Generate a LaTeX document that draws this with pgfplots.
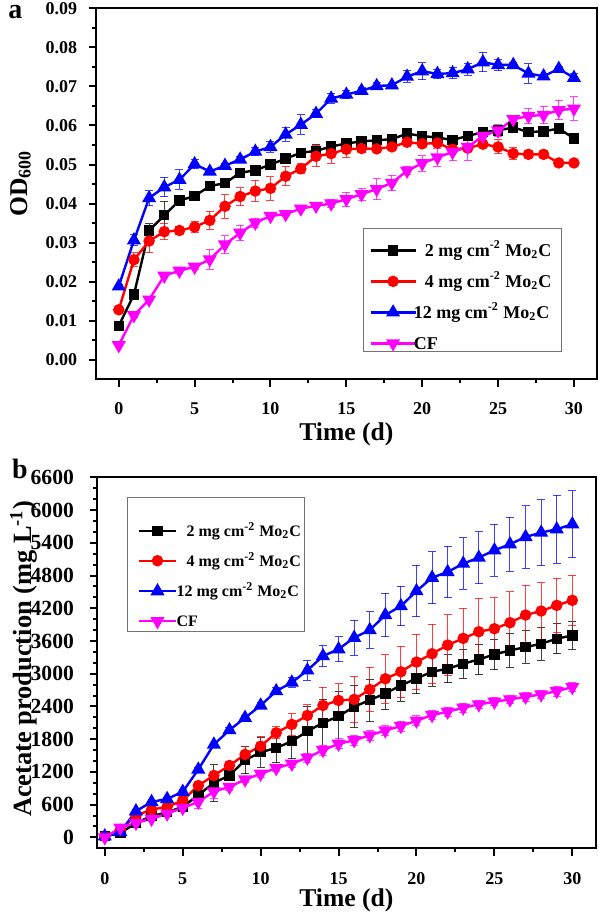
\documentclass[border=0pt]{standalone}
\usepackage{fontspec}
\setmainfont{Liberation Serif}
\usepackage{pgfplots}
\usepackage{pgfplotstable}
\pgfplotsset{compat=1.18}
\definecolor{cblk}{RGB}{0,0,0}
\definecolor{cred}{RGB}{255,0,0}
\definecolor{cblu}{RGB}{0,0,255}
\definecolor{cmag}{RGB}{255,0,255}

% ---------------- OD600 data ----------------
\pgfplotstableread{
x y e
0 0.0087 0.0005
1 0.0167 0.0006
2 0.0331 0.0017
3 0.0370 0.0035
4 0.0408 0.0006
5 0.0419 0.0008
6 0.0445 0.0005
7 0.0452 0.0005
8 0.0479 0.0005
9 0.0485 0.0005
10 0.0500 0.0008
11 0.0515 0.0005
12 0.0530 0.0010
13 0.0535 0.0015
14 0.0546 0.0012
15 0.0554 0.0008
16 0.0559 0.0005
17 0.0562 0.0005
18 0.0565 0.0005
19 0.0579 0.0005
20 0.0573 0.0005
21 0.0569 0.0005
22 0.0563 0.0005
23 0.0573 0.0006
24 0.0583 0.0006
25 0.0587 0.0008
26 0.0595 0.0008
27 0.0583 0.0005
28 0.0585 0.0005
29 0.0592 0.0005
30 0.0567 0.0005
}\odA
\pgfplotstableread{
x y e
0 0.0128 0.0005
1 0.0256 0.0018
2 0.0304 0.0030
3 0.0328 0.0020
4 0.0331 0.0010
5 0.0340 0.0013
6 0.0357 0.0023
7 0.0393 0.0030
8 0.0418 0.0023
9 0.0432 0.0028
10 0.0439 0.0030
11 0.0470 0.0025
12 0.0489 0.0013
13 0.0521 0.0027
14 0.0528 0.0025
15 0.0539 0.0022
16 0.0541 0.0010
17 0.0540 0.0007
18 0.0545 0.0007
19 0.0557 0.0008
20 0.0553 0.0008
21 0.0555 0.0005
22 0.0539 0.0006
23 0.0542 0.0008
24 0.0552 0.0005
25 0.0545 0.0018
26 0.0528 0.0015
27 0.0526 0.0003
28 0.0526 0.0003
29 0.0504 0.0003
30 0.0504 0.0003
}\odB
\pgfplotstableread{
x y e
0 0.0188 0.0006
1 0.0306 0.0014
2 0.0414 0.0019
3 0.0442 0.0025
4 0.0461 0.0025
5 0.0501 0.0012
6 0.0482 0.0005
7 0.0497 0.0005
8 0.0513 0.0008
9 0.0533 0.0010
10 0.0545 0.0013
11 0.0577 0.0018
12 0.0602 0.0025
13 0.0630 0.0010
14 0.0669 0.0012
15 0.0679 0.0010
16 0.0689 0.0007
17 0.0701 0.0010
18 0.0703 0.0004
19 0.0725 0.0015
20 0.0739 0.0022
21 0.0732 0.0012
22 0.0734 0.0015
23 0.0744 0.0015
24 0.0762 0.0025
25 0.0755 0.0015
26 0.0755 0.0005
27 0.0733 0.0025
28 0.0726 0.0005
29 0.0745 0.0006
30 0.0722 0.0010
}\odC
\pgfplotstableread{
x y e
0 0.0037 0.0003
1 0.0114 0.0005
2 0.0154 0.0005
3 0.0215 0.0005
4 0.0228 0.0006
5 0.0238 0.0007
6 0.0257 0.0025
7 0.0295 0.0023
8 0.0325 0.0020
9 0.0351 0.0012
10 0.0368 0.0005
11 0.0373 0.0003
12 0.0387 0.0005
13 0.0394 0.0005
14 0.0400 0.0010
15 0.0411 0.0018
16 0.0424 0.0015
17 0.0437 0.0027
18 0.0453 0.0020
19 0.0484 0.0010
20 0.0503 0.0020
21 0.0518 0.0022
22 0.0532 0.0022
23 0.0545 0.0035
24 0.0573 0.0015
25 0.0587 0.0015
26 0.0616 0.0010
27 0.0624 0.0020
28 0.0627 0.0022
29 0.0639 0.0025
30 0.0643 0.0030
}\odD

% ---------------- Acetate data ----------------
\pgfplotstableread{
x y e
0 20 10
1 80 20
2 265 30
3 390 40
4 460 40
5 560 40
6 775 50
7 1000 335
8 1135 90
9 1416 245
10 1560 275
11 1640 275
12 1762 320
13 1946 450
14 2100 430
15 2220 450
16 2395 380
17 2516 385
18 2639 300
19 2785 290
20 2913 280
21 3036 270
22 3091 260
23 3183 270
24 3262 280
25 3354 280
26 3427 310
27 3488 300
28 3549 300
29 3641 275
30 3702 250
}\acA
\pgfplotstableread{
x y e
0 20 10
1 140 20
2 400 30
3 510 40
4 560 40
5 675 50
6 950 40
7 1135 60
8 1318 60
9 1520 150
10 1672 180
11 1917 110
12 2070 195
13 2235 200
14 2418 330
15 2510 305
16 2528 430
17 2711 410
18 2907 445
19 3036 470
20 3213 510
21 3366 545
22 3525 560
23 3648 550
24 3770 610
25 3825 570
26 3935 563
27 4076 550
28 4149 515
29 4253 495
30 4345 460
}\acB
\pgfplotstableread{
x y e
0 20 10
1 100 20
2 480 30
3 650 30
4 705 30
5 835 40
6 1245 40
7 1703 40
8 1966 40
9 2192 40
10 2418 50
11 2681 60
12 2840 85
13 3061 185
14 3324 200
15 3450 230
16 3660 320
17 3800 335
18 4075 400
19 4240 365
20 4515 470
21 4760 480
22 4865 470
23 5018 470
24 5128 475
25 5263 480
26 5373 495
27 5507 575
28 5587 605
29 5648 625
30 5740 610
}\acC
\pgfplotstableread{
x y e
0 0 10
1 175 20
2 265 30
3 340 30
4 435 30
5 540 40
6 650 120
7 840 135
8 925 60
9 1060 60
10 1165 60
11 1270 60
12 1350 60
13 1460 80
14 1600 90
15 1715 90
16 1780 90
17 1870 90
18 1960 90
19 2040 90
20 2140 90
21 2242 90
22 2303 80
23 2376 80
24 2437 70
25 2486 70
26 2528 80
27 2577 80
28 2620 80
29 2681 90
30 2754 80
}\acD

\pgfplotsset{
  myaxis/.style={
    scale only axis,
    axis line style={line width=1pt},
    every tick/.style={line width=1pt, black},
    major tick length=3.7pt,
    minor tick length=2pt,
    tick align=outside,
    xtick pos=lower, ytick pos=lower,
    /pgf/number format/assume math mode=true,
    /pgf/number format/1000 sep={},
    tick label style={inner sep=0pt},
    xticklabel style={font=\fontsize{9}{9}\selectfont\bfseries},
    minor x tick num=1,
    xtick={0,5,10,15,20,25,30},
    legend cell align=left,
  },
  errs/.style={error bars/.cd, y dir=both, y explicit,
    error bar style={line width=0.5pt, opacity=0.75},
    error mark options={rotate=90, line width=0.5pt, mark size=2pt, opacity=0.75}},
  sA/.style={color=cblk, line width=1.2pt, mark=square*, mark size=2pt, mark options={solid}, errs},
  sB/.style={color=cred, line width=1.2pt, mark=*, mark size=2.25pt, mark options={solid}, errs},
  sC/.style={color=cblu, line width=1.2pt, mark=triangle*, mark size=2.9pt, mark options={solid}, errs},
  sD/.style={color=cmag, line width=1.2pt, mark=triangle*, mark size=2.9pt, mark options={solid, rotate=180}, errs},
}

\begin{document}
\begin{tikzpicture}
\path[use as bounding box] (0pt,0pt) rectangle (299pt,456.5pt);

% ---------------- panel a ----------------
\begin{axis}[myaxis,
  at={(48pt,266.85pt)}, anchor=south west,
  width=250.35pt, height=185.5pt,
  xmin=-1.5, xmax=31.5, ymin=-0.005, ymax=0.09,
  ytick={0,0.01,0.02,0.03,0.04,0.05,0.06,0.07,0.08,0.09},
  yticklabels={0.00,0.01,0.02,0.03,0.04,0.05,0.06,0.07,0.08,0.09},
  minor y tick num=1,
  yticklabel style={font=\fontsize{9}{9}\selectfont\bfseries},
  xticklabel shift=7.85pt,
  yticklabel shift=5.5pt,
  legend image code/.code={\draw[mark repeat=2,mark phase=2] plot coordinates {(0pt,0pt) (11.25pt,0pt) (22.5pt,0pt)};},
  legend style={at={(0.5452,0.3647)}, anchor=north west, draw=none, fill=none,
    inner sep=0pt, row sep=9.5pt, column sep=-1.5pt,
    font=\fontsize{9}{9}\selectfont\bfseries,
    nodes={inner sep=0pt, text height=6pt, text depth=0pt}},
]
\addplot+[sA] table[x=x, y=y, y error=e] {\odA};
\addlegendentry{\hspace{5.5pt}2 mg cm\textsuperscript{-2} Mo\textsubscript{2}C}
\addplot+[sB] table[x=x, y=y, y error=e] {\odB};
\addlegendentry{\hspace{5.5pt}4 mg cm\textsuperscript{-2} Mo\textsubscript{2}C}
\addplot+[sC] table[x=x, y=y, y error=e] {\odC};
\addlegendentry{12 mg cm\textsuperscript{-2} Mo\textsubscript{2}C}
\addplot+[sD] table[x=x, y=y, y error=e] {\odD};
\addlegendentry{CF}
\draw[black!55, line width=0.5pt] (axis description cs:0.5333,0.4051) rectangle (axis description cs:0.9287,0.0736);
\end{axis}

% ---------------- panel b ----------------
\begin{axis}[myaxis,
  at={(48.5pt,32.35pt)}, anchor=south west,
  width=249.35pt, height=185.5pt,
  xmin=-0.5, xmax=31.5, ymin=-200, ymax=6600,
  ytick={0,600,1200,1800,2400,3000,3600,4200,4800,5400,6000,6600},
  minor y tick num=2,
  yticklabel style={font=\fontsize{10.8}{10.8}\selectfont\bfseries},
  xticklabel shift=8.35pt,
  yticklabel shift=7.65pt,
  legend image code/.code={\draw[mark repeat=2,mark phase=2] plot coordinates {(0pt,0pt) (9.25pt,0pt) (18.5pt,0pt)};},
  legend style={at={(0.0810,0.8714)}, anchor=north west, draw=none, fill=none,
    inner sep=0pt, row sep=9.7pt, column sep=-0.3pt,
    font=\fontsize{8}{8}\selectfont\bfseries,
    nodes={inner sep=0pt, text height=5.3pt, text depth=0pt}},
]
\addplot+[sA] table[x=x, y=y, y error=e] {\acA};
\addlegendentry{\hspace{5pt}2 mg cm\textsuperscript{-2} Mo\textsubscript{2}C}
\addplot+[sB] table[x=x, y=y, y error=e] {\acB};
\addlegendentry{\hspace{5pt}4 mg cm\textsuperscript{-2} Mo\textsubscript{2}C}
\addplot+[sC] table[x=x, y=y, y error=e] {\acC};
\addlegendentry{12 mg cm\textsuperscript{-2} Mo\textsubscript{2}C}
\addplot+[sD] table[x=x, y=y, y error=e] {\acD};
\addlegendentry{CF}
\draw[black!55, line width=0.5pt] (axis description cs:0.0602,0.9469) rectangle (axis description cs:0.4151,0.5857);
\end{axis}

% ---------------- labels ----------------
\node[anchor=base west, inner sep=0pt] at (4pt,447.35pt) {\fontsize{14}{14}\selectfont\bfseries a};
\node[anchor=base west, inner sep=0pt] at (5.8pt,217pt) {\fontsize{14}{14}\selectfont\bfseries b};
\node[anchor=base, inner sep=0pt] at (173.2pt,236pt) {\fontsize{12.8}{12.8}\selectfont\bfseries Time (d)};
\node[anchor=base, inner sep=0pt] at (173.2pt,3.15pt) {\fontsize{12.8}{12.8}\selectfont\bfseries Time (d)};
\node[anchor=base, rotate=90, inner sep=0pt] at (13.5pt,364.75pt) {\fontsize{12.8}{12.8}\selectfont\bfseries OD\textsubscript{600}};
\node[anchor=base, rotate=90, inner sep=0pt] at (15.6pt,127pt) {\fontsize{13.2}{13.2}\selectfont\bfseries Acetate production (mg L\textsuperscript{-1})};
\end{tikzpicture}
\end{document}
